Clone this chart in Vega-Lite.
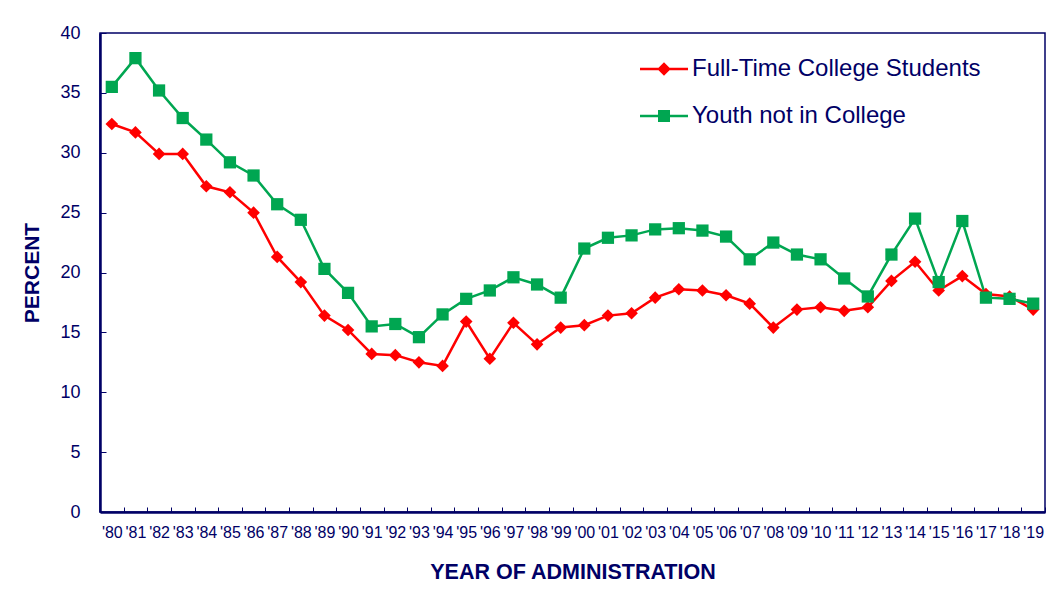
{
  "$schema": "https://vega.github.io/schema/vega-lite/v6.json",
  "autosize": "none",
  "width": 945,
  "height": 479,
  "padding": {"left": 100, "top": 33, "right": 7, "bottom": 85},
  "background": "white",
  "config": {
    "view": {"stroke": "#000066", "strokeWidth": 1.5},
    "font": "Liberation Sans"
  },
  "data": {
    "values": [
      {"year": "'80", "series": "Full-Time College Students", "value": 32.4},
      {"year": "'81", "series": "Full-Time College Students", "value": 31.7},
      {"year": "'82", "series": "Full-Time College Students", "value": 29.9},
      {"year": "'83", "series": "Full-Time College Students", "value": 29.9},
      {"year": "'84", "series": "Full-Time College Students", "value": 27.2},
      {"year": "'85", "series": "Full-Time College Students", "value": 26.7},
      {"year": "'86", "series": "Full-Time College Students", "value": 25.0},
      {"year": "'87", "series": "Full-Time College Students", "value": 21.3},
      {"year": "'88", "series": "Full-Time College Students", "value": 19.2},
      {"year": "'89", "series": "Full-Time College Students", "value": 16.4},
      {"year": "'90", "series": "Full-Time College Students", "value": 15.2},
      {"year": "'91", "series": "Full-Time College Students", "value": 13.2},
      {"year": "'92", "series": "Full-Time College Students", "value": 13.1},
      {"year": "'93", "series": "Full-Time College Students", "value": 12.5},
      {"year": "'94", "series": "Full-Time College Students", "value": 12.2},
      {"year": "'95", "series": "Full-Time College Students", "value": 15.9},
      {"year": "'96", "series": "Full-Time College Students", "value": 12.8},
      {"year": "'97", "series": "Full-Time College Students", "value": 15.8},
      {"year": "'98", "series": "Full-Time College Students", "value": 14.0},
      {"year": "'99", "series": "Full-Time College Students", "value": 15.4},
      {"year": "'00", "series": "Full-Time College Students", "value": 15.6},
      {"year": "'01", "series": "Full-Time College Students", "value": 16.4},
      {"year": "'02", "series": "Full-Time College Students", "value": 16.6},
      {"year": "'03", "series": "Full-Time College Students", "value": 17.9},
      {"year": "'04", "series": "Full-Time College Students", "value": 18.6},
      {"year": "'05", "series": "Full-Time College Students", "value": 18.5},
      {"year": "'06", "series": "Full-Time College Students", "value": 18.1},
      {"year": "'07", "series": "Full-Time College Students", "value": 17.4},
      {"year": "'08", "series": "Full-Time College Students", "value": 15.4},
      {"year": "'09", "series": "Full-Time College Students", "value": 16.9},
      {"year": "'10", "series": "Full-Time College Students", "value": 17.1},
      {"year": "'11", "series": "Full-Time College Students", "value": 16.8},
      {"year": "'12", "series": "Full-Time College Students", "value": 17.1},
      {"year": "'13", "series": "Full-Time College Students", "value": 19.3},
      {"year": "'14", "series": "Full-Time College Students", "value": 20.9},
      {"year": "'15", "series": "Full-Time College Students", "value": 18.5},
      {"year": "'16", "series": "Full-Time College Students", "value": 19.7},
      {"year": "'17", "series": "Full-Time College Students", "value": 18.2},
      {"year": "'18", "series": "Full-Time College Students", "value": 18.0},
      {"year": "'19", "series": "Full-Time College Students", "value": 16.9},
      {"year": "'80", "series": "Youth not in College", "value": 35.5},
      {"year": "'81", "series": "Youth not in College", "value": 37.9},
      {"year": "'82", "series": "Youth not in College", "value": 35.2},
      {"year": "'83", "series": "Youth not in College", "value": 32.9},
      {"year": "'84", "series": "Youth not in College", "value": 31.1},
      {"year": "'85", "series": "Youth not in College", "value": 29.2},
      {"year": "'86", "series": "Youth not in College", "value": 28.1},
      {"year": "'87", "series": "Youth not in College", "value": 25.7},
      {"year": "'88", "series": "Youth not in College", "value": 24.4},
      {"year": "'89", "series": "Youth not in College", "value": 20.3},
      {"year": "'90", "series": "Youth not in College", "value": 18.3},
      {"year": "'91", "series": "Youth not in College", "value": 15.5},
      {"year": "'92", "series": "Youth not in College", "value": 15.7},
      {"year": "'93", "series": "Youth not in College", "value": 14.6},
      {"year": "'94", "series": "Youth not in College", "value": 16.5},
      {"year": "'95", "series": "Youth not in College", "value": 17.8},
      {"year": "'96", "series": "Youth not in College", "value": 18.5},
      {"year": "'97", "series": "Youth not in College", "value": 19.6},
      {"year": "'98", "series": "Youth not in College", "value": 19.0},
      {"year": "'99", "series": "Youth not in College", "value": 17.9},
      {"year": "'00", "series": "Youth not in College", "value": 22.0},
      {"year": "'01", "series": "Youth not in College", "value": 22.9},
      {"year": "'02", "series": "Youth not in College", "value": 23.1},
      {"year": "'03", "series": "Youth not in College", "value": 23.6},
      {"year": "'04", "series": "Youth not in College", "value": 23.7},
      {"year": "'05", "series": "Youth not in College", "value": 23.5},
      {"year": "'06", "series": "Youth not in College", "value": 23.0},
      {"year": "'07", "series": "Youth not in College", "value": 21.1},
      {"year": "'08", "series": "Youth not in College", "value": 22.5},
      {"year": "'09", "series": "Youth not in College", "value": 21.5},
      {"year": "'10", "series": "Youth not in College", "value": 21.1},
      {"year": "'11", "series": "Youth not in College", "value": 19.5},
      {"year": "'12", "series": "Youth not in College", "value": 18.0},
      {"year": "'13", "series": "Youth not in College", "value": 21.5},
      {"year": "'14", "series": "Youth not in College", "value": 24.5},
      {"year": "'15", "series": "Youth not in College", "value": 19.2},
      {"year": "'16", "series": "Youth not in College", "value": 24.3},
      {"year": "'17", "series": "Youth not in College", "value": 17.9},
      {"year": "'18", "series": "Youth not in College", "value": 17.8},
      {"year": "'19", "series": "Youth not in College", "value": 17.4}
    ]
  },
  "encoding": {
    "x": {
      "field": "year", "type": "ordinal", "sort": null,
      "scale": {"type": "band", "paddingInner": 0, "paddingOuter": 0},
      "axis": {
        "title": "YEAR OF ADMINISTRATION",
        "titleFont": "Liberation Sans", "titleFontSize": 21.5, "titleFontWeight": "bold",
        "titleColor": "#000066", "titlePadding": 21,
        "labelAngle": 0, "labelFont": "Liberation Sans", "labelFontSize": 16,
        "labelColor": "#000066", "labelPadding": 17,
        "domainColor": "#000066", "domainWidth": 2.5,
        "tickColor": "#000066", "tickSize": -5, "tickWidth": 1, "tickBand": "extent",
        "grid": false
      }
    },
    "y": {
      "field": "value", "type": "quantitative",
      "scale": {"domain": [0, 40], "nice": false},
      "axis": {
        "title": "PERCENT",
        "titleFont": "Liberation Sans", "titleFontSize": 21, "titleFontWeight": "bold",
        "titleColor": "#000066", "titlePadding": 17,
        "values": [0, 5, 10, 15, 20, 25, 30, 35, 40],
        "labelFont": "Liberation Sans", "labelFontSize": 18, "labelColor": "#000066",
        "labelPadding": 26,
        "domainColor": "#000066", "domainWidth": 2.5,
        "tickColor": "#000066", "tickSize": -6, "tickWidth": 1,
        "grid": false
      }
    },
    "color": {
      "field": "series", "type": "nominal",
      "scale": {"domain": ["Full-Time College Students", "Youth not in College"], "range": ["#ff0000", "#00a651"]},
      "legend": {
        "orient": "none", "legendX": 540, "legendY": 12,
        "title": null, "padding": 0, "rowPadding": 11,
        "labelFont": "Liberation Sans", "labelFontSize": 24, "labelColor": "#000066",
        "labelOffset": 4, "symbolSize": 2304, "symbolStrokeWidth": 0,
        "labelLimit": 400,
        "encode": {
          "symbols": {
            "update": {
              "shape": {"signal": "datum.value === 'Full-Time College Students' ? 'M-1,-0.055L1,-0.055L1,0.055L-1,0.055Z M0,-0.28L0.28,0L0,0.28L-0.28,0Z' : 'M-1,-0.055L1,-0.055L1,0.055L-1,0.055Z M-0.25,-0.25L0.25,-0.25L0.25,0.25L-0.25,0.25Z'"},
              "fill": {"signal": "datum.value === 'Full-Time College Students' ? '#ff0000' : '#00a651'"},
              "fillOpacity": {"value": 1},
              "strokeWidth": {"value": 0}
            }
          }
        }
      }
    }
  },
  "layer": [
    {
      "mark": {"type": "line", "strokeWidth": 2.5}
    },
    {
      "transform": [{"filter": "datum.series === 'Full-Time College Students'"}],
      "mark": {"type": "point", "filled": true, "opacity": 1, "size": 160, "shape": "diamond"}
    },
    {
      "transform": [{"filter": "datum.series === 'Youth not in College'"}],
      "mark": {"type": "point", "filled": true, "opacity": 1, "size": 150, "shape": "square"}
    }
  ]
}
